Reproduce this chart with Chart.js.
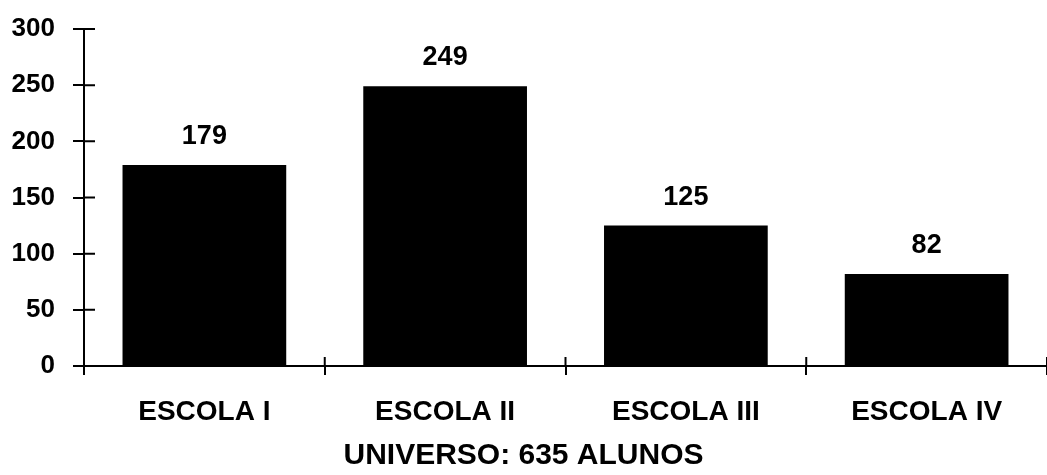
<!DOCTYPE html>
<html>
<head>
<meta charset="utf-8">
<script src="https://cdn.jsdelivr.net/npm/chart.js@4/dist/chart.umd.min.js"></script>
<style>
html,body{margin:0;padding:0;background:#fff;}
#wrap{width:1047px;height:475px;position:relative;}
</style>
</head>
<body>
<div id="wrap"><canvas id="c"></canvas></div>
<script>
const categories = ["ESCOLA I", "ESCOLA II", "ESCOLA III", "ESCOLA IV"];
const alunos = [179, 249, 125, 82];
const yTicks = [0, 50, 100, 150, 200, 250, 300];
const titleText = "UNIVERSO: 635 ALUNOS";

const FONT = "'Liberation Sans', Arial, Helvetica, sans-serif";

const valueLabels = {
  id: 'valueLabels',
  afterDatasetsDraw(chart) {
    const ctx = chart.ctx;
    const meta = chart.getDatasetMeta(0);
    ctx.save();
    ctx.fillStyle = '#000';
    ctx.font = 'bold 27px ' + FONT;
    ctx.textAlign = 'center';
    ctx.textBaseline = 'bottom';
    meta.data.forEach((bar, i) => {
      ctx.fillText(String(chart.data.datasets[0].data[i]), bar.x, bar.y - 15);
    });
    ctx.restore();
  }
};

const innerTicks = {
  id: 'innerTicks',
  afterDraw(chart) {
    const ctx = chart.ctx;
    const x = chart.scales.x, y = chart.scales.y;
    ctx.save();
    ctx.strokeStyle = '#000';
    ctx.lineWidth = 2;
    ctx.beginPath();
    y.ticks.forEach((t, i) => {
      const py = y.getPixelForTick(i);
      ctx.moveTo(y.right, py);
      ctx.lineTo(y.right + 11, py);
    });
    const n = x.ticks.length;
    for (let i = 0; i <= n; i++) {
      const px = x.left + i * (x.width / n);
      ctx.moveTo(px, x.top);
      ctx.lineTo(px, x.top - 9);
    }
    ctx.stroke();
    ctx.restore();
  }
};

new Chart(document.getElementById('c'), {
  type: 'bar',
  data: {
    labels: categories,
    datasets: [{
      data: alunos,
      backgroundColor: '#000',
      borderWidth: 0,
      categoryPercentage: 1.0,
      barPercentage: 0.68
    }]
  },
  options: {
    responsive: true,
    maintainAspectRatio: false,
    animation: false,
    events: [],
    layout: { padding: { top: 29, right: 0, left: 0, bottom: 0 } },
    plugins: {
      legend: { display: false },
      tooltip: { enabled: false },
      title: {
        display: true,
        position: 'bottom',
        text: titleText,
        color: '#000',
        font: { family: FONT, size: 30, weight: 'bold' },
        padding: { top: 2, bottom: 1 }
      }
    },
    scales: {
      x: {
        grid: { display: true, drawOnChartArea: false, drawTicks: true, tickLength: 9, color: '#000', lineWidth: 2, offset: true },
        border: { display: true, color: '#000', width: 2 },
        ticks: { color: '#000', font: { family: FONT, size: 28, weight: 'bold' }, padding: 20, maxRotation: 0 },
        afterFit(scale) { scale.height = 70; scale.paddingLeft = 0; scale.paddingRight = 0; }
      },
      y: {
        min: 0, max: 300,
        afterBuildTicks(scale) { scale.ticks = yTicks.map(v => ({ value: v })); },
        grid: { display: true, drawOnChartArea: false, drawTicks: true, tickLength: 11, color: '#000', lineWidth: 2 },
        border: { display: true, color: '#000', width: 2 },
        ticks: { color: '#000', font: { family: FONT, size: 26, weight: 'bold' }, padding: 18 },
        afterFit(scale) { scale.width = 84; scale.paddingTop = 0; scale.paddingBottom = 0; }
      }
    }
  },
  plugins: [valueLabels, innerTicks]
});
</script>
</body>
</html>
